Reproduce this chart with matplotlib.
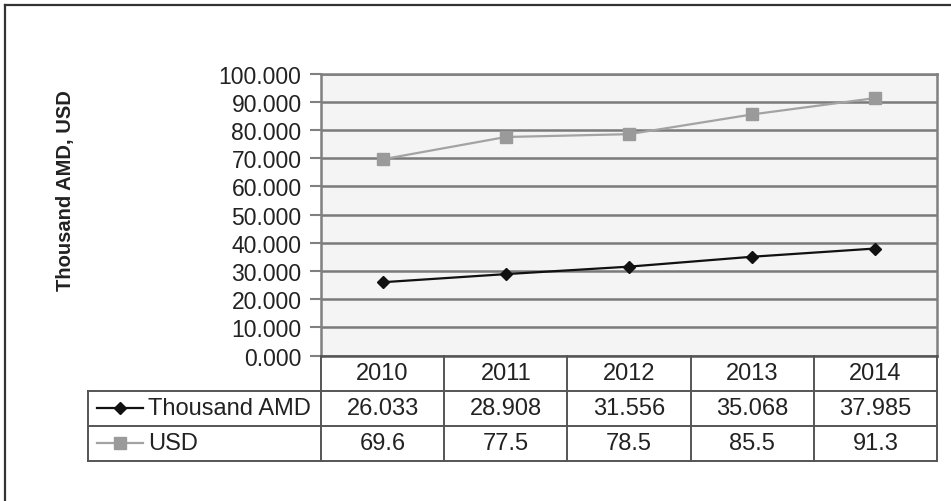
import matplotlib.pyplot as plt
import matplotlib

matplotlib.rcParams['font.family'] = ['Liberation Sans', 'DejaVu Sans']

# yearly values
years = ['2010', '2011', '2012', '2013', '2014']
amd = [26.033, 28.908, 31.556, 35.068, 37.985]
usd = [69.6, 77.5, 78.5, 85.5, 91.3]
amd_labels = ['26.033', '28.908', '31.556', '35.068', '37.985']
usd_labels = ['69.6', '77.5', '78.5', '85.5', '91.3']
yticks = [0, 10, 20, 30, 40, 50, 60, 70, 80, 90, 100]

W, H = 951, 502
fig = plt.figure(figsize=(W / 100, H / 100), dpi=100, facecolor='white')

# frame round the whole chart (runs off the right and bottom edge)
fig.add_artist(plt.Line2D([4.5 / W, 4.5 / W], [0, 1 - 5.5 / H], color='#333333', lw=1.6,
                          transform=fig.transFigure))
fig.add_artist(plt.Line2D([4.5 / W, 1], [1 - 5.5 / H, 1 - 5.5 / H], color='#333333', lw=1.6,
                          transform=fig.transFigure))

left, right, top, bottom = 321, 937, 74.5, 356.7
ax = fig.add_axes([left / W, 1 - bottom / H, (right - left) / W, (bottom - top) / H])
ax.set_facecolor('#f4f4f4')
x = list(range(len(years)))

ax.plot(x, usd, '-s', color='#a3a3a3', markerfacecolor='#9a9a9a', markeredgecolor='#9a9a9a',
        markersize=9, linewidth=1.6, zorder=3)
ax.plot(x, amd, '-D', color='#111111', markersize=6.5, linewidth=1.6, zorder=3)

ax.set_xlim(-0.5, len(years) - 0.5)
ax.set_ylim(0, 100)
ax.set_yticks(yticks)
ax.set_yticklabels([f'{v:.3f}' for v in yticks], fontsize=16.5, color='#222222')
ax.set_xticks([])
ax.tick_params(axis='y', length=8, width=1.5, color='#808080', pad=6)
ax.yaxis.grid(True, color='#7a7a7a', linewidth=1.8)
ax.set_axisbelow(True)
for side in ['left', 'right', 'top', 'bottom']:
    ax.spines[side].set_color('#808080')
    ax.spines[side].set_linewidth(1.8)
ax.spines['bottom'].set_color('#555555')

fig.text(65 / W, 1 - 191 / H, 'Thousand AMD, USD', rotation=90, ha='center', va='center',
         fontsize=14.5, fontweight='bold', color='#222222')

# data table under the plot
tleft, tbottom = 88, 462
col_w = (right - left) / len(years)
lab_w = (left - tleft) / col_w
tax = fig.add_axes([tleft / W, 1 - tbottom / H, (right - tleft) / W, (tbottom - bottom) / H])
tax.set_xlim(-lab_w, len(years))
tax.set_ylim(0, 3)
tax.axis('off')

lc = '#555555'
lw = 1.4
for i in range(len(years) + 1):
    tax.plot([i, i], [0, 3], color=lc, lw=lw, clip_on=False)
tax.plot([-lab_w, -lab_w], [0, 2], color=lc, lw=lw, clip_on=False)
for yy in [0, 1, 2]:
    tax.plot([-lab_w, len(years)], [yy, yy], color=lc, lw=lw, clip_on=False)

fs = 17
for i, yr in enumerate(years):
    tax.text(i + 0.5, 2.5, yr, ha='center', va='center', fontsize=fs, color='#222222')
    tax.text(i + 0.5, 1.5, amd_labels[i], ha='center', va='center', fontsize=fs, color='#222222')
    tax.text(i + 0.5, 0.5, usd_labels[i], ha='center', va='center', fontsize=fs, color='#222222')

# legend keys inside the row headers
kx0, kx1, km = (97 - left) / col_w, (143 - left) / col_w, (120 - left) / col_w
tx = (148 - left) / col_w
tax.plot([kx0, kx1], [1.5, 1.5], color='#111111', lw=1.6, clip_on=False)
tax.plot([km], [1.5], 'D', color='#111111', markersize=6.5, clip_on=False)
tax.text(tx, 1.5, 'Thousand AMD', ha='left', va='center', fontsize=fs, color='#222222')
tax.plot([kx0, kx1], [0.5, 0.5], color='#a3a3a3', lw=1.6, clip_on=False)
tax.plot([km], [0.5], 's', color='#9a9a9a', markersize=9, clip_on=False)
tax.text(tx, 0.5, 'USD', ha='left', va='center', fontsize=fs, color='#222222')

fig.savefig('out.png', dpi=100)
